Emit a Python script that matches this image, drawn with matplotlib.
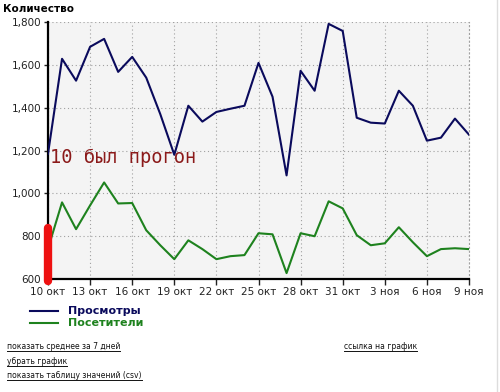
import numpy as np
import matplotlib
matplotlib.use('Agg')
import matplotlib.pyplot as plt
from matplotlib.lines import Line2D

# daily values, 10 Oct .. 9 Nov
views = [1185, 1628, 1526, 1684, 1721, 1567, 1637, 1540, 1370, 1180,
         1409, 1335, 1380, 1395, 1409, 1609, 1451, 1084, 1572, 1479,
         1791, 1758, 1353, 1330, 1326, 1479, 1409, 1246, 1260, 1349, 1274]
visitors = [742, 958, 833, 944, 1051, 953, 955, 828, 758, 693,
            781, 740, 693, 707, 712, 814, 809, 628, 814, 800,
            963, 930, 805, 758, 767, 842, 772, 707, 740, 744, 740]
tick_labels = ['10 окт', '13 окт', '16 окт', '19 окт', '22 окт', '25 окт',
               '28 окт', '31 окт', '3 ноя', '6 ноя', '9 ноя']
days = np.arange(len(views))

plt.rcParams['font.family'] = ['DejaVu Sans']

fig = plt.figure(figsize=(5.0, 3.92), dpi=100)
ax = fig.add_axes([0.096, 0.288, 0.842, 0.656])
ax.set_facecolor('#f4f4f4')

ax.plot(days, views, color='#0a0a5c', lw=1.5, zorder=3)
ax.plot(days, visitors, color='#1e821e', lw=1.5, zorder=3)

ax.set_xlim(0, 30)
ax.set_ylim(600, 1800)
ax.set_xticks(days[::3])
ax.set_xticklabels(tick_labels)
ax.set_yticks(range(600, 1801, 200))
ax.set_yticklabels(['{:,}'.format(v) for v in range(600, 1801, 200)])
ax.tick_params(labelsize=7.5, colors='#222222', length=4, width=1, direction='out', pad=2)
ax.tick_params(axis='y', length=3)
ax.grid(True, color='#a0a0a0', linestyle=(0, (1, 2.5)), linewidth=0.8)

ax.spines['top'].set_visible(False)
ax.spines['right'].set_color('#a0a0a0')
ax.spines['right'].set_linestyle((0, (1, 2.5)))
ax.spines['right'].set_linewidth(0.8)
ax.spines['left'].set_linewidth(1.6)
ax.spines['bottom'].set_linewidth(1.6)

# red marker on the first day
ax.plot([0, 0], [590, 840], color='#ee1111', lw=6, solid_capstyle='round',
        zorder=5, clip_on=False)
ax.text(0.15, 1140, '10 был прогон', color='#8b1a1a', fontsize=13.5,
        family='DejaVu Sans Mono', zorder=6)

fig.text(0.005, 0.978, 'Количество', fontsize=7.5, fontweight='bold', va='center')

# legend
for yy, col, name in [(0.207, '#0a0a5c', 'Просмотры'), (0.176, '#1e821e', 'Посетители')]:
    fig.add_artist(Line2D([0.06, 0.116], [yy, yy], color=col, lw=1.5))
    fig.text(0.136, yy, name, color=col, fontsize=8, fontweight='bold', va='center')

# page links
links = [(0.014, 0.117, 'показать среднее за 7 дней'),
         (0.014, 0.079, 'убрать график'),
         (0.014, 0.041, 'показать таблицу значений (csv)'),
         (0.688, 0.117, 'ссылка на график')]
texts = [fig.text(x, y, s, fontsize=5.5, color='#111111', va='center') for x, y, s in links]
fig.canvas.draw()
r = fig.canvas.get_renderer()
for t in texts:
    bb = t.get_window_extent(r).transformed(fig.transFigure.inverted())
    fig.add_artist(Line2D([bb.x0, bb.x1], [bb.y0, bb.y0], color='#111111', lw=0.7))

# edge of the neighbouring page column
fig.add_artist(Line2D([0.994, 0.994], [0.0, 1.0], color='#dddddd', lw=1))

fig.savefig('out.png', dpi=100)
